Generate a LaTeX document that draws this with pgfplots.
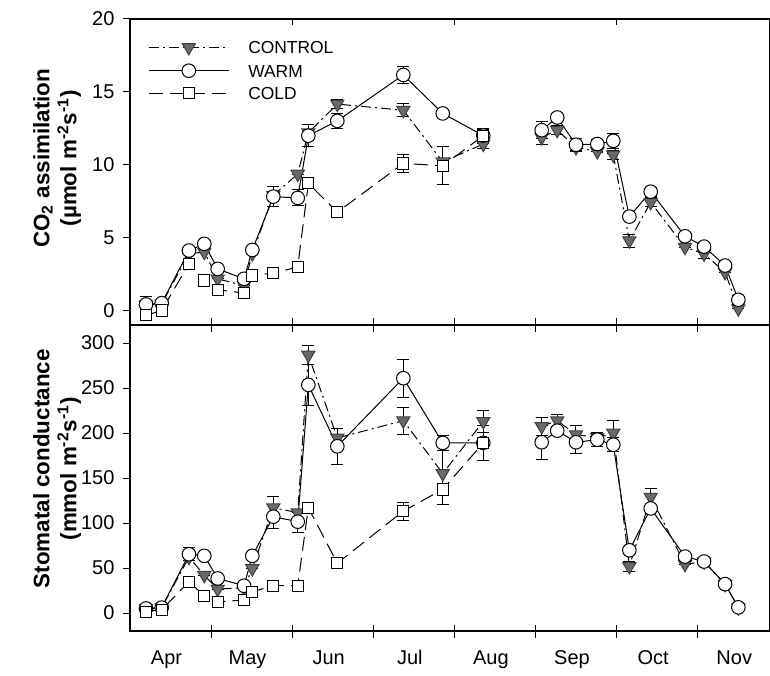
\documentclass[border=0pt]{standalone}
\usepackage{fontspec}
\setmainfont{Liberation Sans}
\usepackage{pgfplots}
\usepackage{pgfplotstable}
\pgfplotsset{compat=1.18}
\definecolor{trifill}{RGB}{105,105,105}

\pgfplotstableread{
x y e
0.197 0.40 0
0.391 0.45 0
0.727 3.90 0
0.916 4.00 0
1.081 2.17 0
1.406 1.70 0
1.508 3.90 0
1.767 7.90 0
2.068 9.36 0
2.199 12.20 0
2.556 14.16 0.3
3.370 13.74 0.45
3.856 10.20 0
4.356 11.42 0.3
4.700 nan 0
5.076 11.87 0.5
5.268 12.37 0.3
5.499 11.19 0.3
5.762 10.91 0
5.959 10.68 0.3
6.157 4.79 0.45
6.420 7.42 0.3
6.843 4.34 0
7.078 3.88 0.3
7.337 2.62 0
7.501 0.12 0
}\ctrlA

\pgfplotstableread{
x y e
0.197 0.41 0.55
0.391 0.50 0.2
0.727 4.11 0.2
0.916 4.57 0.2
1.081 2.85 0.2
1.406 2.17 0
1.508 4.15 0
1.767 7.81 0.7
2.068 7.72 0.55
2.199 11.99 0.75
2.556 13.01 0.5
3.370 16.16 0.57
3.856 13.52 0
4.356 12.00 0.4
4.700 nan 0
5.076 12.37 0.6
5.268 13.24 0.3
5.499 11.37 0.4
5.762 11.42 0.3
5.959 11.64 0.5
6.157 6.44 0
6.420 8.15 0.3
6.843 5.09 0.2
7.078 4.38 0.3
7.337 3.08 0
7.501 0.73 0.3
}\warmA

\pgfplotstableread{
x y e
0.197 -0.34 0
0.391 0.00 0
0.727 3.20 0.2
0.916 2.05 0
1.081 1.42 0
1.406 1.19 0
1.508 2.40 0.3
1.767 2.56 0
2.068 2.97 0
2.199 8.72 0
2.556 6.74 0
3.370 10.09 0.6
3.856 9.93 1.3
4.356 11.99 0.5
}\coldA

\pgfplotstableread{
x y e
0.197 5 0
0.391 6 0
0.727 62 0
0.916 42 0
1.081 26.6 0
1.406 28 0
1.508 49.5 0
1.767 117 13
2.068 111.5 0
2.199 286.7 11
2.556 194.5 11
3.370 213.7 15
3.856 155 34
4.356 212.9 12
4.700 nan 0
5.076 207.4 10
5.268 213.7 7
5.499 198.2 10
5.762 195 0
5.959 200 14
6.157 51.7 6
6.420 128.8 10
6.843 54.2 0
7.078 57 0
7.337 32 0
7.501 6 0
}\ctrlB

\pgfplotstableread{
x y e
0.197 5 0
0.391 6 0
0.727 65.3 7
0.916 63.5 0
1.081 38.4 0
1.406 30.3 0
1.508 63.5 0
1.767 107 13
2.068 101.5 12
2.199 253.5 23
2.556 185.2 20
3.370 260.9 21
3.856 189 8
4.356 189 0
4.700 nan 0
5.076 189.7 19
5.268 202.6 0
5.499 189.7 12
5.762 192.6 8
5.959 187 8
6.157 69.7 0
6.420 116.2 0
6.843 62.7 0
7.078 57.2 0
7.337 32.1 0
7.501 6.3 0
}\warmB

\pgfplotstableread{
x y e
0.197 1.5 0
0.391 3.7 0
0.727 34.7 0
0.916 19.2 0
1.081 12.5 0
1.406 14.4 0
1.508 23.6 0
1.767 30.3 0
2.068 30.3 0
2.199 117 0
2.556 55.3 0
3.370 113.3 10
3.856 137.3 0
4.356 189 19
}\coldB

\pgfplotsset{
  myaxis/.style={
    scale only axis, width=320pt, height=153pt,
    xmin=0, xmax=7.891,
    xtick={0.45,1.45,...,7.45},
    minor xtick={1,...,7},
    minor tick length=6.5pt,
    xtick align=center,
    x tick style={/pgfplots/major tick length=0pt},
    ytick align=outside,
    y tick style={/pgfplots/major tick length=3.5pt},
    ytick pos=left,
    axis line style={line width=1pt},
    tick style={line width=0.5pt, black},
    tick label style={font=\fontsize{10}{12}\selectfont},
    xticklabel style={yshift=-4pt},
    /pgf/number format/assume math mode=true,
    unbounded coords=jump,
    ylabel style={font=\bfseries\fontsize{11.2}{13.5}\selectfont, align=center, anchor=center},
  },
  errplot/.style={draw=none, mark=none, forget plot,
    error bars/.cd, y dir=both, y explicit,
    error bar style={line width=0.5pt, black, solid},
    error mark options={rotate=90, mark size=3pt, line width=0.5pt, black, solid}},
  warmstyle/.style={black, line width=0.5pt, solid, mark=*, mark size=3.4pt,
    mark options={solid, fill=white, draw=black, line width=0.5pt}},
  ctrlstyle/.style={black, line width=0.5pt, dash pattern=on 5pt off 2pt on 1pt off 2pt,
    mark=triangle*, mark size=3.8pt,
    mark options={solid, rotate=180, fill=trifill, draw=black!75, line width=0.5pt}},
  coldstyle/.style={black, line width=0.5pt, dash pattern=on 7pt off 3.5pt,
    mark=square*, mark size=2.8pt,
    mark options={solid, fill=white, draw=black, line width=0.5pt}},
  legend image code/.code={\draw[mark repeat=2,mark phase=2,#1]
    plot coordinates {(0pt,0pt) (20pt,0pt) (40pt,0pt)};},
}

\begin{document}
\begin{tikzpicture}
\useasboundingbox (-65pt,-22pt) rectangle (320pt,315.5pt);
% top panel
\begin{axis}[myaxis, at={(0pt,153pt)}, anchor=south west,
  ymin=-1, ymax=20, ytick={0,5,...,20},
  xticklabels={}, xtick pos=left,
  ylabel={CO\textsubscript{2} assimilation\\(µmol m\textsuperscript{-2}s\textsuperscript{-1})},
  ylabel style={at={(axis description cs:-0.114,0.545)}},
  legend style={at={(axis description cs:0.028,0.93)}, anchor=north west,
    draw=none, fill=none, inner sep=0pt, row sep=4.5pt,
    font=\fontsize{8.7}{10}\selectfont,
    nodes={inner sep=0pt, text height=6.5pt, text depth=0pt},
    /tikz/every odd column/.append style={column sep=9.5pt}},
  legend cell align=left,
]
\addplot[errplot] table[x=x,y=y,y error=e] {\ctrlA};
\addplot[errplot] table[x=x,y=y,y error=e] {\warmA};
\addplot[errplot] table[x=x,y=y,y error=e] {\coldA};
\addplot[ctrlstyle] table[x=x,y=y] {\ctrlA};
\addplot[warmstyle] table[x=x,y=y] {\warmA};
\addplot[coldstyle] table[x=x,y=y] {\coldA};
\legend{CONTROL,WARM,COLD}
\draw[line width=0.5pt] (axis cs:2,20) -- ++(0pt,-3pt);
\draw[line width=0.5pt] (axis cs:4,20) -- ++(0pt,-3pt);
\draw[line width=0.5pt] (axis cs:6,20) -- ++(0pt,-3pt);
\end{axis}
% bottom panel
\begin{axis}[myaxis, at={(0pt,0pt)}, anchor=south west,
  ymin=-20, ymax=320, ytick={0,50,...,300},
  xticklabels={Apr,May,Jun,Jul,Aug,Sep,Oct,Nov},
  ylabel={Stomatal conductance\\(mmol m\textsuperscript{-2}s\textsuperscript{-1})},
  ylabel style={at={(axis description cs:-0.114,0.53)}},
]
\addplot[errplot] table[x=x,y=y,y error=e] {\ctrlB};
\addplot[errplot] table[x=x,y=y,y error=e] {\warmB};
\addplot[errplot] table[x=x,y=y,y error=e] {\coldB};
\addplot[ctrlstyle] table[x=x,y=y] {\ctrlB};
\addplot[warmstyle] table[x=x,y=y] {\warmB};
\addplot[coldstyle] table[x=x,y=y] {\coldB};
\end{axis}
\end{tikzpicture}
\end{document}
